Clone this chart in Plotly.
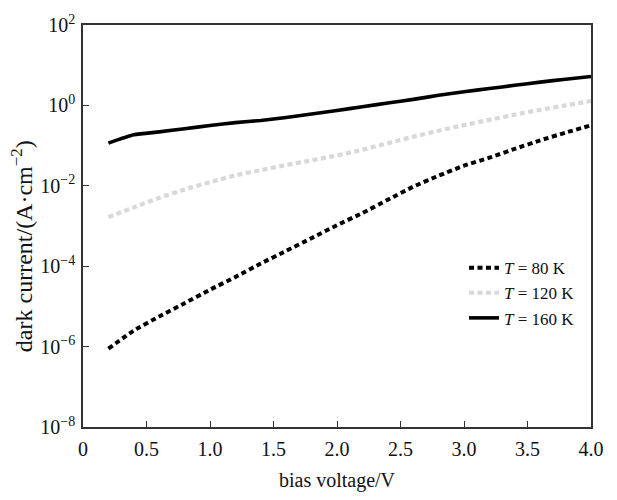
import plotly.graph_objects as go

# Bias voltage (V) and dark current density (A/cm^2) at three temperatures
bias_v = [0.2, 0.4, 0.6, 0.8, 1.0, 1.2, 1.4, 1.6, 1.8, 2.0,
          2.2, 2.4, 2.6, 2.8, 3.0, 3.2, 3.4, 3.6, 3.8, 4.0]

current_80k = [8.9e-7, 2.5e-6, 5.6e-6, 1.2e-5, 2.6e-5, 5.4e-5, 1.17e-4, 2.4e-4,
               5.0e-4, 1.05e-3, 2.1e-3, 4.5e-3, 9.5e-3, 1.78e-2, 3.16e-2,
               5.0e-2, 8.3e-2, 0.135, 0.21, 0.32]

current_120k = [1.66e-3, 2.9e-3, 5.0e-3, 8.1e-3, 1.23e-2, 1.82e-2, 2.45e-2, 3.3e-2,
                4.3e-2, 5.7e-2, 7.9e-2, 0.115, 0.166, 0.234, 0.324, 0.437,
                0.589, 0.776, 1.0, 1.29]

current_160k = [0.115, 0.186, 0.219, 0.263, 0.316, 0.372, 0.422, 0.501,
                0.610, 0.750, 0.923, 1.15, 1.41, 1.78, 2.19, 2.63,
                3.16, 3.80, 4.47, 5.25]

series = [
    ("<i>T</i> = 80 K", current_80k, dict(color="#000000", width=4, dash="5px,3.5px")),
    ("<i>T</i> = 120 K", current_120k, dict(color="#d8d8d8", width=4.2, dash="5px,3.5px")),
    ("<i>T</i> = 160 K", current_160k, dict(color="#000000", width=3.6)),
]

y_tickvals = [1e-8, 1e-6, 1e-4, 1e-2, 1e0, 1e2]
y_ticktext = ["10<sup>−8</sup>", "10<sup>−6</sup>", "10<sup>−4</sup>",
              "10<sup>−2</sup>", "10<sup>0</sup>", "10<sup>2</sup>"]
x_tickvals = [0, 0.5, 1.0, 1.5, 2.0, 2.5, 3.0, 3.5, 4.0]
x_ticktext = ["0", "0.5", "1.0", "1.5", "2.0", "2.5", "3.0", "3.5", "4.0"]

font_family = "Liberation Serif, Times New Roman, serif"
ink = "#111111"

fig = go.Figure()
for name, values, line in series:
    fig.add_trace(go.Scatter(x=bias_v, y=values, mode="lines", name=name,
                             line=dict(shape="spline", smoothing=0.6, **line)))

axis_common = dict(
    showline=True, linecolor="#333333", linewidth=1.6, mirror=True,
    ticks="inside", ticklen=6, tickwidth=1.3, tickcolor="#333333",
    showgrid=False, zeroline=False,
    tickfont=dict(family=font_family, size=20, color=ink),
)

fig.update_xaxes(
    range=[0, 4], tickvals=x_tickvals, ticktext=x_ticktext,
    ticklabelstandoff=3,
    title=dict(text="bias voltage/V", font=dict(family=font_family, size=20, color=ink),
               standoff=14),
    **axis_common,
)
fig.update_yaxes(
    type="log", range=[-8, 2], tickvals=y_tickvals, ticktext=y_ticktext,
    ticklabelstandoff=2,
    **axis_common,
)

# Vertical axis title placed as a rotated annotation left of the tick labels
fig.add_annotation(
    text="dark current/(A·cm<sup>−2</sup>)", textangle=-90,
    xref="paper", yref="paper", x=-0.12, y=0.45,
    xanchor="center", yanchor="middle", showarrow=False,
    font=dict(family=font_family, size=24, color=ink),
)

fig.update_layout(
    width=617, height=500,
    margin=dict(l=83, r=26, t=20, b=69),
    paper_bgcolor="white", plot_bgcolor="white",
    font=dict(family=font_family, size=20, color=ink),
    legend=dict(
        x=0.75, y=0.44, xanchor="left", yanchor="top",
        bgcolor="rgba(0,0,0,0)", borderwidth=0,
        font=dict(family=font_family, size=17, color=ink),
        tracegroupgap=0, itemwidth=30,
    ),
    showlegend=True,
)

fig.write_html("out.html")
